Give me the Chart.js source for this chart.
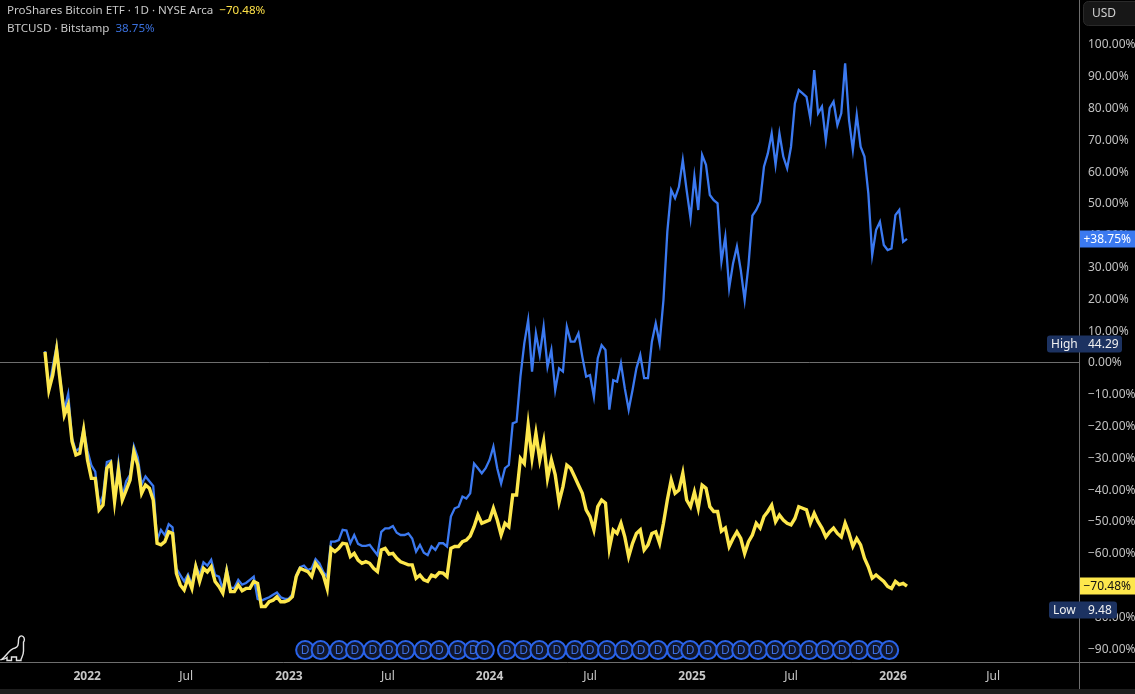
<!DOCTYPE html>
<html>
<head>
<meta charset="utf-8">
<script src="https://cdn.jsdelivr.net/npm/chart.js@4"></script>
<style>
    html, body { margin: 0; padding: 0; background: #000; overflow: hidden; }
    #wrap { position: relative; width: 1135px; height: 694px; }
    canvas { position: absolute; left: 0; top: 0; }
    .legend { position: absolute; left: 7px; font: 11.6px 'Noto Sans', sans-serif; color: #c8c8c8; white-space: pre; }
    #strip { position: absolute; left: 0; top: 689px; width: 1135px; height: 5px; background: #1e1e1e; }
    #dino { position: absolute; left: 0; top: 634px; }
</style>
</head>
<body>
<div id="wrap">
    <canvas id="chart" width="1135" height="694"></canvas>
    <div class="legend" style="top:2px">ProShares Bitcoin ETF · 1D · NYSE Arca  <span style="color:#fde047">−70.48%</span></div>
    <div class="legend" style="top:20px">BTCUSD · Bitstamp  <span style="color:#3a70dc">38.75%</span></div>
    <svg id="dino" width="28" height="30" fill="none" stroke="#e4e4e4" stroke-width="1.4">
        <path d="M1.5 25.5 C6 23 9 15 15 14 C18 13 18.5 11 18.5 6 C18.5 2.5 21 1 23 2.5 C25 4 24.5 7 23.5 8 L23.5 17 C23.5 21 22 23 21 25.5 L21 26.5 L16.5 26.5 L16.5 23 L11.5 23 L11.5 26.5 L7 26.5 L7 23.5 C5 25 3 25.5 1.5 25.5 Z"/>
    </svg>
    <div id="strip"></div>
</div>
<script>
// weekly samples, percent change from the first bar
const btcValues = [
    3.4, -8.5, -1.5, 5, -6, -15, -10, -24, -28, -27,
    -20.8, -28, -32.5, -34.5, -45, -42, -31.5, -31, -43, -31.8,
    -42.5, -37.5, -35.5, -26.5, -30, -38.5, -36, -37.5, -39, -56,
    -52.8, -54.5, -51, -52, -65, -67, -69, -66.8, -70, -63.8,
    -67, -63, -64, -62.2, -67, -67.5, -71.5, -65, -71, -71,
    -68.5, -70, -69.5, -68.5, -67.5, -74.5, -75, -74.5, -74, -73.2,
    -72.5, -74, -74.5, -74.5, -73, -67, -64.5,
    -64, -65.4, -64.9, -62, -63.3, -66, -67.5, -56.5, -56.5, -56,
    -52.8, -53, -57, -54.4, -57.2, -57.8, -57.8, -57.5, -59.1, -60.7,
    -53.4, -52.3, -52.3, -51.6, -53.7, -54.4, -54.4, -53.9, -55.5, -59.6,
    -57.5, -60, -60.7, -58, -59.1, -57, -57, -58, -48.6, -46,
    -45.5, -42.3, -42.9, -41.3, -31.9, -33.4, -35, -33.4, -30.8, -26.6,
    -33.4, -38.2, -33.4, -32.4, -19.3, -18.8,
    -4.6, 5.9, 13.2, -3, 9, 2.2, 11.1, -1.5, 3.8, -8.8,
    -2, -3, 11.1, 6.4, 6.4, 9, 1.7, -4.6, -4.1, -10.9,
    1.2, 5.3, 3.8, -15, -5.7, -6.2, -0.4, -8.3, -15, -8.8,
    -2, 2.2, -5.1, -5.1, 6.4, 12.2, 5.9, 19.5,
    41, 54.1, 51.5, 55.1, 63.5, 54, 45.2, 58.3, 47.8, 65.1,
    62, 52.5, 50.9, 49.9, 31.6, 39.4, 23.2, 31, 36.3, 28.9,
    19.5, 30.5, 46, 47.8, 50.4, 61.4, 65.6, 71.9, 62, 71.9,
    64.6, 60.9, 67.7, 81.3, 85.5, 84.5, 83.4, 76.6, 91.8, 78.2,
    80.3, 69.8, 79.8, 81.9, 74.5, 78.2, 93.9, 76.1, 66.7, 77.7,
    67.7, 64.6, 53, 33.6, 41.5, 44.1, 36.8, 35.2, 35.7, 46.2,
    47.8, 37.8, 38.75
];
const etfValues = [
    3.2, -8.8, -4.1, 3.8, -6.7, -16.7, -13.5, -25, -29.2, -28.7,
    -21.4, -30.8, -36.6, -36.6, -46.5, -45, -33.4, -31.9, -43.9, -34,
    -43.4, -40.3, -37.1, -28.2, -32.4, -41.3, -38.7, -39.7, -43.4, -57,
    -57.5, -56.5, -53.4, -53.9, -66.5, -70.1, -71.7, -68, -71.2, -64.4,
    -69, -64.9, -66, -64.4, -69, -70.6, -72.7, -66, -72.2, -72.2,
    -70.1, -71.9, -71.2, -71.2, -69, -69.6, -76.9, -76.9, -75.4, -74.9,
    -73.8, -75.4, -75.4, -74.9, -73.8, -67.5, -64.9,
    -65.4, -65.9, -67.5, -63.3, -64.9, -67, -71.2, -58.6, -59.6, -58.6,
    -57, -57.2, -61.2, -60.2, -62.3, -63.3, -62.8, -63.3, -64.9, -65.9,
    -59.1, -58.6, -60.4, -60.2, -61.7, -62.8, -63.3, -63.8, -63.8, -68,
    -67, -68.5, -69, -67, -67.5, -66.2, -66.4, -67.5, -58.6, -58,
    -58, -56.5, -56, -54.7, -51.8, -48.1, -50.7, -50.2, -49.7, -46,
    -49.7, -54.4, -50.7, -51.8, -41.8, -41.8, -30.3, -31.9, -19.8, -30.3,
    -22.4, -30.8, -25, -36.6, -30.8, -35.5,
    -44, -39.2, -32.4, -33.4, -36, -38.7, -41.3, -46.5, -48.6, -52.8,
    -45.5, -43.4, -44.4, -58.6, -52.8, -53.9, -50.7, -55, -61.2, -57,
    -53.9, -52.8, -59.1, -57.5, -53.9, -53.4, -57, -50.7,
    -43.4, -37.1, -41.3, -40.3, -35, -43.4, -45.5, -40.9, -46, -38.7,
    -39.7, -45.5, -47, -47, -53.2, -52.2, -58, -55.5, -53.4, -55.5,
    -60.2, -56.5, -54.4, -50.7, -52.2, -48.6, -47, -45, -50.2, -48.1,
    -49.7, -50.7, -51.2, -49.2, -45.5, -46, -46.5, -50.7, -47.6, -50.2,
    -52.2, -55, -53.4, -52.2, -53.9, -55, -50.7, -53.9, -58, -55.5,
    -57.5, -61.7, -64.4, -68, -67, -68, -69, -70.6, -71.2, -69,
    -70, -69.6, -70.48
];

// dividends, same weekly index
const dividendWeeks = [
    67.3, 71.3, 76.1, 80.2, 84.8, 89, 93.3, 97.9, 102, 106.8,
    110.8, 113.8, 119.5, 123.8, 127.9, 132.4, 137.1, 141, 145.4, 149.8,
    154.2, 158.6, 163.3, 166.9, 171.5, 176, 180.1, 184.5, 188.9, 193.3,
    197.7, 201.8, 206.2, 210.6, 215, 218.4
];
const dividendLevel = -90.6;

const timeTickWeeks = [10.9, 36.5, 63.1, 88.7, 115, 141, 167.4, 193, 219.4, 245.3];
const timeTickLabels = ['2022', 'Jul', '2023', 'Jul', '2024', 'Jul', '2025', 'Jul', '2026', 'Jul'];
const priceTicks = [100, 90, 80, 70, 60, 50, 40, 30, 20, 10, 0, -10, -20, -30, -40, -50, -60, -70, -80, -90];

const FONT = "'Noto Sans', sans-serif";
const BLUE = '#3b79f0';
const YELLOW = '#fde74c';

const toPoints = arr => arr.map((v, i) => ({ x: i, y: v }));

// last value tags and high / low tags, placed through the price scale
const tagsPlugin = {
    id: 'tags',
    afterDraw(chart) {
        const ctx = chart.ctx;
        const y = chart.scales.y;
        ctx.save();

        // axis lines
        ctx.strokeStyle = '#6e6e6e';
        ctx.lineWidth = 1;
        ctx.beginPath();
        ctx.moveTo(1079.5, 0);
        ctx.lineTo(1079.5, 689);
        ctx.moveTo(0, 662.5);
        ctx.lineTo(1135, 662.5);
        ctx.stroke();

        ctx.textBaseline = 'middle';
        ctx.font = '12px ' + FONT;

        // USD button
        ctx.fillStyle = '#171717';
        ctx.strokeStyle = '#2a2a2a';
        ctx.beginPath();
        ctx.roundRect(1083.5, 1.5, 60, 24, 5);
        ctx.fill();
        ctx.stroke();
        ctx.fillStyle = '#d0d0d0';
        ctx.textAlign = 'left';
        ctx.fillText('USD', 1092, 14);

        const lastTag = (value, text, bg, fg) => {
            const py = Math.round(y.getPixelForValue(value));
            ctx.fillStyle = bg;
            ctx.fillRect(1080, py - 8.5, 55, 17);
            ctx.fillStyle = fg;
            ctx.textAlign = 'right';
            ctx.fillText(text, 1131, py + 0.5);
        };
        lastTag(38.75, '+38.75%', BLUE, '#fff');
        lastTag(-70.48, '−70.48%', '#fde74c', '#111');

        const rangeTag = (value, name, price, left, right) => {
            const py = Math.round(y.getPixelForValue(value));
            ctx.fillStyle = '#1c3261';
            ctx.beginPath();
            ctx.roundRect(left, py - 8.5, right - left, 17, 3);
            ctx.fill();
            ctx.fillStyle = '#f0f0f0';
            ctx.textAlign = 'left';
            ctx.fillText(name, left + 4, py + 0.5);
            ctx.fillText(price, 1088, py + 0.5);
        };
        rangeTag(5.66, 'High', '44.29', 1047, 1122);
        rangeTag(-78, 'Low', '9.48', 1049, 1117);

        ctx.restore();
    }
};

// D letters inside the dividend circles
const dividendLabels = {
    id: 'dividendLabels',
    afterDatasetsDraw(chart) {
        const ctx = chart.ctx;
        const meta = chart.getDatasetMeta(2);
        ctx.save();
        ctx.font = '12px ' + FONT;
        ctx.fillStyle = '#3d6fe0';
        ctx.textAlign = 'center';
        ctx.textBaseline = 'middle';
        meta.data.forEach(pt => ctx.fillText('D', pt.x, pt.y + 0.5));
        ctx.restore();
    }
};

new Chart(document.getElementById('chart').getContext('2d'), {
    type: 'line',
    data: {
        datasets: [{
            label: 'ProShares Bitcoin ETF',
            data: toPoints(etfValues),
            borderColor: YELLOW,
            borderWidth: 3.4,
            pointRadius: 0,
            tension: 0,
            order: 1
        }, {
            label: 'BTCUSD',
            data: toPoints(btcValues),
            borderColor: BLUE,
            borderWidth: 2.3,
            pointRadius: 0,
            tension: 0,
            order: 2
        }, {
            label: 'Dividends',
            data: dividendWeeks.map(w => ({ x: w, y: dividendLevel })),
            showLine: false,
            pointStyle: 'circle',
            pointRadius: 9,
            pointBorderWidth: 2,
            pointBorderColor: '#2962e8',
            pointBackgroundColor: '#11162a',
            order: 0
        }]
    },
    plugins: [dividendLabels, tagsPlugin],
    options: {
        responsive: false,
        animation: false,
        layout: { padding: 0, autoPadding: false },
        plugins: { legend: { display: false }, tooltip: { enabled: false } },
        scales: {
            x: {
                type: 'linear',
                min: -11.64,
                max: 267.5,
                border: { display: false },
                grid: { display: false, drawTicks: false },
                afterBuildTicks: scale => {
                    scale.ticks = timeTickWeeks.map(v => ({ value: v }));
                },
                afterFit: scale => {
                    scale.height = 32;
                    scale.paddingLeft = 0;
                    scale.paddingRight = 0;
                },
                ticks: {
                    autoSkip: false,
                    maxRotation: 0,
                    padding: 7,
                    color: '#c8c8c8',
                    font: ctx => ({
                        family: FONT,
                        size: 12,
                        weight: /^\d/.test(timeTickLabels[ctx.index]) ? 'bold' : 'normal'
                    }),
                    callback: (value, index) => timeTickLabels[index]
                }
            },
            y: {
                position: 'right',
                min: -94.34,
                max: 113.84,
                border: { display: false },
                grid: {
                    drawTicks: false,
                    color: ctx => ctx.tick && ctx.tick.value === 0 ? '#6e6e6e' : 'transparent'
                },
                afterBuildTicks: scale => {
                    scale.ticks = priceTicks.map(v => ({ value: v }));
                },
                afterFit: scale => {
                    scale.width = 56;
                    scale.paddingTop = 0;
                    scale.paddingBottom = 0;
                },
                ticks: {
                    autoSkip: false,
                    crossAlign: 'near',
                    padding: 9,
                    labelOffset: 1,
                    color: '#c0c0c0',
                    font: { family: FONT, size: 12 },
                    callback: v => (v < 0 ? '−' : '') + Math.abs(v).toFixed(2) + '%'
                }
            }
        }
    }
});
</script>
</body>
</html>
